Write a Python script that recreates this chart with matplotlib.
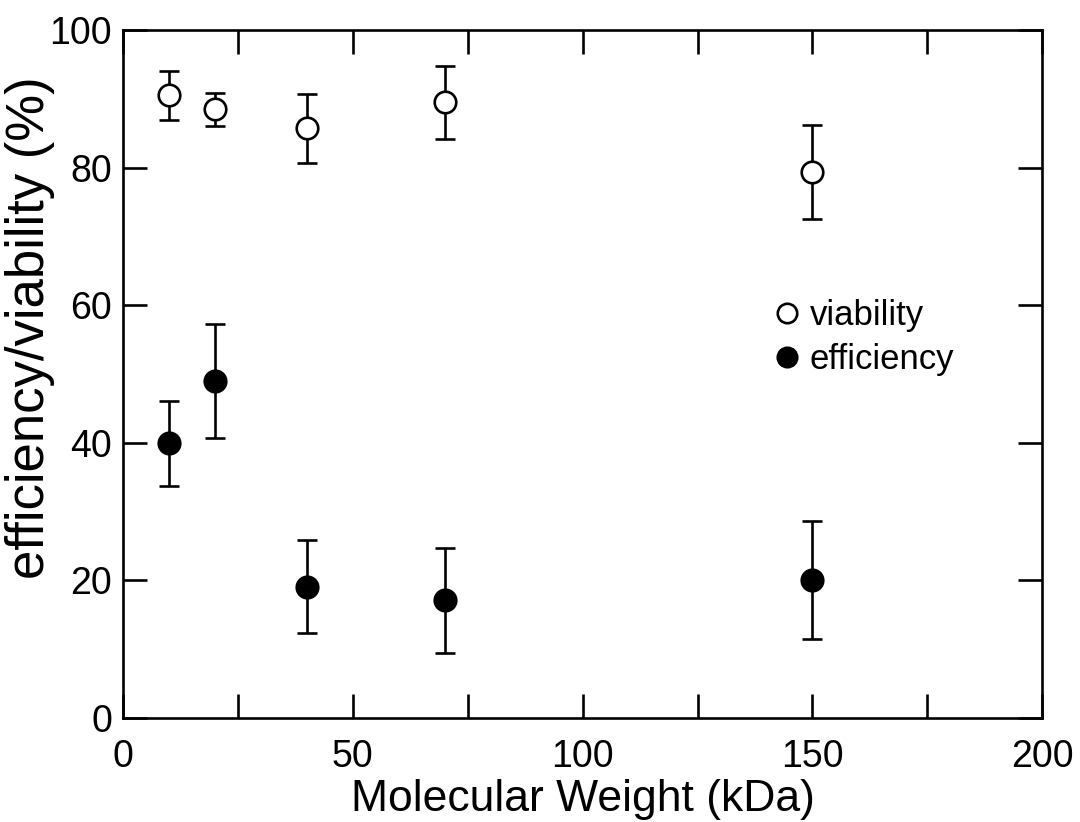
import numpy as np
import matplotlib.pyplot as plt
from matplotlib.lines import Line2D
from matplotlib.ticker import MultipleLocator

plt.rcParams['font.family'] = ['Liberation Sans', 'DejaVu Sans']

# molecular weight (kDa)
mw = [10, 20, 40, 70, 150]

# viability (%) and error
viability = [90.5, 88.5, 85.7, 89.5, 79.4]
viability_err = [3.6, 2.4, 5.0, 5.3, 6.8]

# efficiency (%) and error
efficiency = [39.9, 49.0, 19.1, 17.1, 20.1]
efficiency_err = [6.2, 8.3, 6.8, 7.6, 8.6]

fig = plt.figure(figsize=(10.8, 8.22), dpi=100)
ax = fig.add_axes([0.114, 0.1265, 0.851, 0.837])

lw = 1.9
ax.errorbar(mw, viability, yerr=viability_err, fmt='o', mfc='white', mec='black',
            mew=lw, ms=15.5, ecolor='black', elinewidth=lw, capsize=7.5, capthick=lw,
            zorder=3)
ax.errorbar(mw, efficiency, yerr=efficiency_err, fmt='o', mfc='black', mec='black',
            mew=lw, ms=15.5, ecolor='black', elinewidth=lw, capsize=7.5, capthick=lw,
            zorder=3)

ax.set_xlim(0, 200)
ax.set_ylim(0, 100)
ax.xaxis.set_major_locator(MultipleLocator(50))
ax.xaxis.set_minor_locator(MultipleLocator(25))
ax.yaxis.set_major_locator(MultipleLocator(20))

ax.tick_params(which='both', direction='in', top=True, right=True, length=17,
               width=lw, labelsize=27)
ax.tick_params(axis='x', pad=15)
ax.tick_params(axis='y', pad=8)
for s in ax.spines.values():
    s.set_linewidth(lw)

ax.set_xlabel('Molecular Weight (kDa)', fontsize=32)
ax.set_ylabel('efficiency/viability (%)', fontsize=38)
ax.xaxis.set_label_coords(0.5, -0.089)
ax.yaxis.set_label_coords(-0.074, 0.568)

# legend without error bars
handles = [
    Line2D([], [], ls='none', marker='o', mfc='white', mec='black', mew=lw, ms=14),
    Line2D([], [], ls='none', marker='o', mfc='black', mec='black', mew=lw, ms=14),
]
ax.legend(handles, ['viability', 'efficiency'], loc='upper left',
          bbox_to_anchor=(0.668, 0.654), frameon=False, fontsize=25,
          handletextpad=0.09, labelspacing=0.3, handlelength=1.1)

fig.savefig('out.png', dpi=100)
